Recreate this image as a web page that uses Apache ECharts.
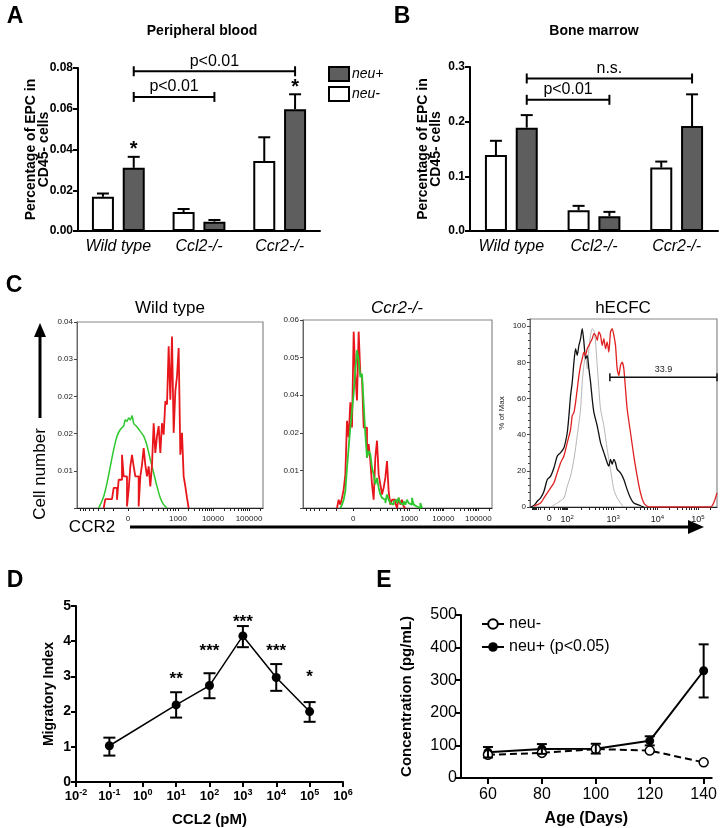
<!DOCTYPE html>
<html>
<head>
<meta charset="utf-8">
<script src="https://cdn.jsdelivr.net/npm/echarts@6.0.0/dist/echarts.min.js"></script>
<style>
  html, body { margin: 0; padding: 0; background: #fff; }
  #main { width: 720px; height: 828px; }
</style>
</head>
<body>
<div id="main"></div>
<script>
var FONT = '"Liberation Sans", Arial, Helvetica, sans-serif';

// ---- A / B : EPC bars
var groups = ['Wild type', 'Ccl2-/-', 'Ccr2-/-'];
var pbNeg = [0.0168, 0.0093, 0.0343];
var pbNegErr = [0.0184, 0.0108, 0.0460];
var pbPos = [0.0310, 0.0046, 0.0598];
var pbPosErr = [0.0364, 0.0054, 0.0671];
var pbStars = ['*', '', '*'];
var pbBrackets = [[0, 2, 0.0784, 'p<0.01'], [0, 1, 0.0658, 'p<0.01']];

var bmNeg = [0.139, 0.038, 0.116];
var bmNegErr = [0.165, 0.046, 0.127];
var bmPos = [0.189, 0.027, 0.192];
var bmPosErr = [0.212, 0.035, 0.250];
var bmBrackets = [[0, 2, 0.279, 'n.s.'], [0, 1, 0.240, 'p<0.01']];

// ---- C : flow histograms (channel units, heights in axis units)
var c1YLabels = ['', '0.01', '0.02', '0.02', '0.03', '0.04'];
var c1TickPos = [153, 303, 408, 516];
var c1TickText = ['0', '1000', '10000', '100000'];
var c1GreenX = [65, 70, 80, 90, 100, 110, 120, 130, 140, 145, 150, 155, 160, 165, 170, 180, 190, 200, 205, 210, 220, 230, 240, 250, 260, 270];
var c1GreenY = [0, 0.09, 0.31, 0.67, 1.12, 1.57, 1.93, 2.11, 2.21, 2.37, 2.33, 2.42, 2.37, 2.48, 2.28, 2.18, 2.06, 1.93, 1.82, 1.68, 1.30, 0.94, 0.58, 0.27, 0.09, 0];
var c1RedX = [80, 85, 90, 95, 100, 105, 110, 115, 120, 125, 130, 135, 140, 145, 150, 155, 160, 165, 170, 175, 180, 185, 190, 195, 200, 205, 210, 215, 220, 225, 230, 235, 240, 245, 250, 255, 260, 265, 270, 275, 280, 285, 290, 295, 300, 305, 310, 315, 320, 325, 330, 335];
var c1RedY = [0, 0.24, 0.24, 0.24, 0.24, 0.24, 0.54, 0.54, 0.22, 0.76, 0.76, 1.43, 0.85, 0.85, 0.04, 0.49, 1.12, 1.43, 1.12, 0.85, 0.85, 0.04, 0.85, 1.16, 1.61, 1.16, 0.85, 1.12, 0.58, 1.16, 2.28, 1.48, 1.93, 2.20, 1.48, 2.28, 1.97, 2.87, 2.78, 4.35, 2.91, 4.61, 2.02, 3.14, 3.54, 4.30, 1.43, 2.02, 0.85, 0.58, 0.27, 0];

var c2YLabels = ['', '0.01', '0.02', '0.04', '0.05', '0.06'];
var c2TickPos = [159, 327, 429, 534];
var c2TickText = ['0', '1000', '10000', '100000'];
var c2RedX = [110, 115, 120, 125, 130, 135, 140, 145, 150, 155, 160, 165, 170, 175, 180, 185, 190, 195, 200, 205, 210, 215, 220, 225, 230, 235, 240, 245, 250, 255, 260, 265, 270, 275, 280, 285, 290, 295, 300, 305, 310, 315];
var c2RedY = [0, 0.22, 0.09, 0.27, 0.49, 0.89, 2.32, 1.88, 2.81, 2.14, 4.69, 3.57, 2.86, 4.69, 3.57, 3.48, 2.14, 2.14, 1.34, 1.70, 1.25, 0.63, 0.22, 1.34, 1.79, 0.89, 0.63, 0.36, 0.54, 0.80, 1.25, 0.45, 0.09, 0.22, 0.22, 0.13, 0, 0.27, 0.09, 0.22, 0.04, 0];
var c2GreenX = [120, 125, 130, 135, 140, 145, 150, 155, 160, 165, 170, 175, 180, 185, 190, 195, 200, 205, 210, 215, 220, 225, 230, 235, 240, 245, 250, 255, 260, 265, 270, 275, 280, 285, 290, 295, 300, 305, 310, 315, 320, 325, 330, 335, 340, 345, 350, 355, 360, 365];
var c2GreenY = [0, 0.09, 0.22, 0.45, 1.07, 1.61, 2.14, 2.59, 3.04, 3.66, 4.20, 3.93, 3.48, 3.57, 2.77, 1.96, 1.34, 1.52, 1.43, 1.07, 0.89, 0.63, 0.80, 0.54, 0.36, 0.27, 0.22, 0.13, 0.36, 0.22, 0.13, 0.09, 0.18, 0.22, 0.13, 0.27, 0.13, 0.09, 0.18, 0.09, 0.22, 0.13, 0.09, 0.27, 0.09, 0.04, 0, 0, 0.13, 0];

var c3TickPos = [66, 120, 258, 391, 513];
var c3TickExp = ['0', '2', '3', '4', '5'];
var c3BlackX = [10, 20, 30, 40, 50, 60, 70, 80, 90, 100, 110, 120, 125, 130, 135, 140, 145, 150, 155, 160, 165, 170, 175, 180, 185, 190, 195, 200, 210, 220, 230, 240, 245, 250, 255, 260, 265, 270, 280, 290, 300, 310, 320, 340, 350];
var c3BlackY = [0, 0.9, 3.2, 5.0, 8.7, 15.2, 17.1, 21.7, 28.2, 30.1, 32.8, 41.2, 50.5, 61.7, 69.1, 80.1, 87.6, 83.9, 89.4, 93.1, 98.7, 91.3, 82.0, 83.9, 76.4, 69.1, 59.7, 52.3, 44.9, 35.6, 30.1, 24.5, 22.6, 26.4, 23.6, 26.4, 24.5, 20.8, 18.9, 15.2, 9.6, 5.0, 2.2, 0.7, 0];
var c3RedX = [20, 30, 40, 50, 60, 70, 80, 90, 100, 110, 120, 130, 135, 140, 145, 150, 155, 160, 165, 170, 175, 180, 185, 190, 195, 200, 205, 210, 215, 220, 225, 230, 235, 240, 245, 250, 255, 260, 265, 270, 275, 280, 285, 290, 295, 300, 310, 320, 330, 340, 350, 360, 370, 550, 560, 570];
var c3RedY = [0.4, 1.3, 2.2, 5.0, 7.8, 10.6, 13.4, 19.0, 24.5, 28.2, 35.6, 43.0, 50.5, 52.3, 57.9, 65.3, 72.7, 78.3, 82.0, 85.7, 83.9, 87.6, 89.4, 91.3, 93.1, 95.9, 95.0, 92.2, 96.8, 95.0, 89.4, 93.1, 87.6, 91.3, 85.7, 96.8, 98.7, 95.0, 89.4, 76.4, 72.7, 78.3, 80.1, 76.4, 65.3, 54.2, 41.2, 28.2, 17.1, 7.8, 2.2, 0.4, 0, 0, 2.2, 7.8];
var c3GrayX = [70, 90, 110, 120, 130, 140, 150, 160, 165, 170, 175, 180, 185, 190, 195, 200, 205, 210, 215, 220, 230, 240, 250, 260, 270, 280, 290];
var c3GrayY = [0, 2.2, 5.0, 11.5, 17.1, 26.4, 39.4, 54.2, 69.1, 78.3, 83.9, 76.4, 87.6, 95.0, 98.7, 97.7, 91.3, 78.3, 65.3, 54.2, 44.9, 31.9, 20.8, 9.6, 5.0, 2.2, 0];
var c3Gate = [[248, 570, 71.8, '33.9']];

// ---- D : migration
var ccl2 = [0.1, 10, 100, 1000, 10000, 100000];
var migIndex = [1.03, 2.19, 2.74, 4.15, 2.97, 2.00];
var migLow = [0.75, 1.83, 2.38, 3.83, 2.59, 1.71];
var migHigh = [1.26, 2.55, 3.09, 4.43, 3.35, 2.27];
var migStars = ['', '**', '***', '***', '***', '*'];
var migStarY = [0, 3.04, 3.84, 4.65, 3.84, 3.08];
var ccl2Ticks = [0.01, 0.1, 1, 10, 100, 1000, 10000, 100000, 1000000];

// ---- E : concentration by age
var ages = [60, 80, 100, 120, 140];
var neuNeg = [71, 77, 89, 84, 48];
var neuPos = [79, 89, 90, 114, 329];
var neuPosLow = [63, 74, 75, 100, 247];
var neuPosHigh = [95, 104, 105, 128, 410];
var ageTicks = [60, 80, 100, 120, 140];

var BAR_W = 22;
var BAR_SHIFT = 15.4;
var DARK = '#5e5e5e';

function zip(xs, ys) {
  return xs.map(function (x, i) { return [x, ys[i]]; });
}

function flowTicks(pos, lo, hi) {
  var t = [];
  var k, m, d;
  for (k = 0; k < pos.length - 1; k++) {
    d = pos[k + 1] - pos[k];
    for (m = 1; m < 10; m++) t.push(pos[k] + d * Math.log10(m));
  }
  d = pos[pos.length - 1] - pos[pos.length - 2];
  for (m = 1; m < 10; m++) {
    var v = pos[pos.length - 1] + d * Math.log10(m);
    if (v <= hi) t.push(v);
  }
  d = pos[1] - pos[0];
  for (m = 2; m < 10; m++) {
    var w = pos[0] - d * Math.log10(m);
    if (w >= lo) t.push(w);
  }
  return t;
}

// error bar going up from bar top
function barErr(xi, yi, vals, errs, side) {
  return {
    type: 'custom', xAxisIndex: xi, yAxisIndex: yi, silent: true, z: 4,
    data: vals.map(function (v, i) { return [i, v, errs[i]]; }),
    renderItem: function (params, api) {
      var a = api.coord([api.value(0), api.value(1)]);
      var b = api.coord([api.value(0), api.value(2)]);
      var x = a[0] + side * BAR_SHIFT;
      var st = { stroke: '#000', lineWidth: 2 };
      return { type: 'group', children: [
        { type: 'line', shape: { x1: x, y1: a[1], x2: x, y2: b[1] }, style: st },
        { type: 'line', shape: { x1: x - 6, y1: b[1], x2: x + 6, y2: b[1] }, style: st }
      ] };
    }
  };
}

function barStars(xi, yi, errs, stars) {
  return {
    type: 'custom', xAxisIndex: xi, yAxisIndex: yi, silent: true, z: 4,
    data: errs.map(function (v, i) { return [i, v]; }),
    renderItem: function (params, api) {
      var s = stars[params.dataIndex];
      if (!s) return null;
      var p = api.coord([api.value(0), api.value(1)]);
      return { type: 'text', style: { text: s, x: p[0] + BAR_SHIFT, y: p[1] - 7, align: 'center', verticalAlign: 'middle',
        fontFamily: FONT, fontSize: 20, fontWeight: 'bold', fill: '#000' } };
    }
  };
}

function brackets(xi, yi, rows) {
  return {
    type: 'custom', xAxisIndex: xi, yAxisIndex: yi, silent: true, z: 4,
    data: rows.map(function (r) { return [r[0], r[1], r[2]]; }),
    renderItem: function (params, api) {
      var a = api.coord([api.value(0), api.value(2)]);
      var b = api.coord([api.value(1), api.value(2)]);
      var x1 = a[0] + BAR_SHIFT, x2 = b[0] + BAR_SHIFT, y = a[1];
      var st = { stroke: '#000', lineWidth: 2 };
      return { type: 'group', children: [
        { type: 'line', shape: { x1: x1, y1: y, x2: x2, y2: y }, style: st },
        { type: 'line', shape: { x1: x1, y1: y - 5, x2: x1, y2: y + 5 }, style: st },
        { type: 'line', shape: { x1: x2, y1: y - 5, x2: x2, y2: y + 5 }, style: st },
        { type: 'text', style: { text: rows[params.dataIndex][3], x: (x1 + x2) / 2, y: y - 2, align: 'center', verticalAlign: 'bottom',
          fontFamily: FONT, fontSize: 16, fill: '#000' } }
      ] };
    }
  };
}

function rangeErr(xi, yi, xs, lo, hi, cap) {
  return {
    type: 'custom', xAxisIndex: xi, yAxisIndex: yi, silent: true, z: 5,
    data: xs.map(function (x, i) { return [x, lo[i], hi[i]]; }),
    renderItem: function (params, api) {
      var a = api.coord([api.value(0), api.value(1)]);
      var b = api.coord([api.value(0), api.value(2)]);
      var st = { stroke: '#000', lineWidth: 2 };
      return { type: 'group', children: [
        { type: 'line', shape: { x1: a[0], y1: a[1], x2: b[0], y2: b[1] }, style: st },
        { type: 'line', shape: { x1: a[0] - cap, y1: a[1], x2: a[0] + cap, y2: a[1] }, style: st },
        { type: 'line', shape: { x1: b[0] - cap, y1: b[1], x2: b[0] + cap, y2: b[1] }, style: st }
      ] };
    }
  };
}

function textMarks(xi, yi, xs, ys, texts, size) {
  return {
    type: 'custom', xAxisIndex: xi, yAxisIndex: yi, silent: true, z: 5,
    data: xs.map(function (x, i) { return [x, ys[i]]; }),
    renderItem: function (params, api) {
      var s = texts[params.dataIndex];
      if (!s) return null;
      var p = api.coord([api.value(0), api.value(1)]);
      return { type: 'text', style: { text: s, x: p[0], y: p[1] + 4, align: 'center', verticalAlign: 'middle',
        fontFamily: FONT, fontSize: size, fontWeight: 'bold', fill: '#000' } };
    }
  };
}

var blackAxis = { show: true, lineStyle: { color: '#000', width: 2 } };
var boldLabel = { color: '#000', fontFamily: FONT, fontWeight: 'bold', fontSize: 12 };

function barYAxis(grid, max, step, digits) {
  return {
    type: 'value', gridIndex: grid, min: 0, max: max, interval: step,
    axisLine: blackAxis, axisTick: { show: true, length: 5, lineStyle: { color: '#000', width: 2 } },
    splitLine: { show: false },
    axisLabel: Object.assign({ margin: 5, formatter: function (v) { return v.toFixed(digits); } }, boldLabel),
    name: 'Percentage of EPC in\nCD45- cells', nameLocation: 'middle', nameGap: 27, nameMoveOverlap: false,
    nameTextStyle: { color: '#000', fontFamily: FONT, fontWeight: 'bold', fontSize: 14, lineHeight: 13 }
  };
}

function barXAxis(grid) {
  return {
    type: 'category', gridIndex: grid, data: groups,
    axisLine: blackAxis, axisTick: { show: false },
    axisLabel: { interval: 0, hideOverlap: false, color: '#000', fontFamily: FONT, fontStyle: 'italic', fontSize: 16, margin: 8 }
  };
}

function flowX(grid, min, max, pos, fmt, rich) {
  return {
    type: 'value', gridIndex: grid, min: min, max: max,
    axisLine: { show: true, lineStyle: { color: '#222', width: 1 } },
    axisTick: { show: true, length: 3, inside: false, customValues: flowTicks(pos, min, max), lineStyle: { color: '#222' } },
    axisLabel: { customValues: pos, color: '#222', fontFamily: FONT, fontSize: 8, margin: 7, formatter: fmt, rich: rich },
    splitLine: { show: false }
  };
}

function flowY(grid, max, step, fmt, minor) {
  return {
    type: 'value', gridIndex: grid, min: 0, max: max, interval: step,
    axisLine: { show: true, lineStyle: { color: '#666', width: 1 } },
    axisTick: { show: true, length: 3, lineStyle: { color: '#444' } },
    minorTick: { show: !!minor, splitNumber: 5, length: 2, lineStyle: { color: '#444' } },
    axisLabel: { color: '#222', fontFamily: FONT, fontSize: 8, margin: 4, formatter: fmt },
    splitLine: { show: false }
  };
}

var supRich = {
  b: { fontFamily: FONT, fontSize: 9, color: '#222' },
  s: { fontFamily: FONT, fontSize: 6, color: '#222', padding: [0, 0, 6, 0] }
};

var chart = echarts.init(document.getElementById('main'), null, { renderer: 'canvas' });

var option = {
  animation: false,
  backgroundColor: '#fff',
  textStyle: { fontFamily: FONT },
  grid: [
    { left: 78, top: 68, width: 242, height: 163, containLabel: false },
    { left: 470, top: 67, width: 248, height: 164, containLabel: false },
    { left: 77, top: 322, width: 186, height: 186, containLabel: false, show: true, borderColor: '#888', borderWidth: 1.2 },
    { left: 303, top: 320, width: 189, height: 188, containLabel: false, show: true, borderColor: '#888', borderWidth: 1.2 },
    { left: 530, top: 319, width: 187, height: 188, containLabel: false, show: true, borderColor: '#888', borderWidth: 1.2 },
    { left: 76, top: 606, width: 267, height: 176, containLabel: false },
    { left: 461, top: 615, width: 252, height: 163, containLabel: false }
  ],
  xAxis: [
    barXAxis(0),
    barXAxis(1),
    flowX(2, 0, 558, c1TickPos, function (v) { return c1TickText[c1TickPos.indexOf(v)]; }),
    flowX(3, 8, 575, c2TickPos, function (v) { return c2TickText[c2TickPos.indexOf(v)]; }),
    flowX(4, 8, 570, c3TickPos, function (v) {
      var e = c3TickExp[c3TickPos.indexOf(v)];
      return e === '0' ? '{b|0}' : '{b|10}{s|' + e + '}';
    }, supRich),
    {
      type: 'log', gridIndex: 5, logBase: 10, min: 0.01, max: 1000000,
      axisLine: blackAxis,
      axisTick: { show: true, length: 5, customValues: ccl2Ticks, lineStyle: { color: '#000', width: 2 } },
      axisLabel: {
        customValues: ccl2Ticks, margin: 6,
        formatter: function (v) { return '{b|10}{s|' + Math.round(Math.log10(v)) + '}'; },
        rich: {
          b: { fontFamily: FONT, fontSize: 13, fontWeight: 'bold', color: '#000' },
          s: { fontFamily: FONT, fontSize: 9, fontWeight: 'bold', color: '#000', padding: [0, 0, 8, 0] }
        }
      },
      splitLine: { show: false }, minorTick: { show: false },
      name: 'CCL2 (pM)', nameLocation: 'middle', nameGap: 30,
      nameTextStyle: { color: '#000', fontFamily: FONT, fontWeight: 'bold', fontSize: 15 }
    },
    {
      type: 'value', gridIndex: 6, min: 50, max: 143,
      axisLine: blackAxis,
      axisTick: { show: true, length: 6, customValues: ageTicks, lineStyle: { color: '#000', width: 2 } },
      axisLabel: { customValues: ageTicks, color: '#000', fontFamily: FONT, fontSize: 16, margin: 9 },
      splitLine: { show: false },
      name: 'Age (Days)', nameLocation: 'middle', nameGap: 33,
      nameTextStyle: { color: '#000', fontFamily: FONT, fontWeight: 'bold', fontSize: 16 }
    }
  ],
  yAxis: [
    barYAxis(0, 0.08, 0.02, 2),
    barYAxis(1, 0.3, 0.1, 1),
    flowY(2, 5, 1, function (v) { return c1YLabels[v]; }),
    flowY(3, 5, 1, function (v) { return c2YLabels[v]; }),
    flowY(4, 104, 20, function (v) { return v; }, true),
    {
      type: 'value', gridIndex: 5, min: 0, max: 5, interval: 1,
      axisLine: blackAxis, axisTick: { show: true, length: 5, lineStyle: { color: '#000', width: 2 } },
      axisLabel: Object.assign({ margin: 5 }, boldLabel, { fontSize: 14 }),
      splitLine: { show: false },
      name: 'Migratory Index', nameLocation: 'middle', nameGap: 20,
      nameTextStyle: { color: '#000', fontFamily: FONT, fontWeight: 'bold', fontSize: 14 }
    },
    {
      type: 'value', gridIndex: 6, min: 0, max: 500, interval: 100,
      axisLine: blackAxis, axisTick: { show: true, length: 6, lineStyle: { color: '#000', width: 2 } },
      axisLabel: { color: '#000', fontFamily: FONT, fontSize: 16, margin: 4 },
      splitLine: { show: false },
      name: 'Concentration (pg/mL)', nameLocation: 'middle', nameGap: 47,
      nameTextStyle: { color: '#000', fontFamily: FONT, fontWeight: 'bold', fontSize: 15 }
    }
  ],
  legend: [
    {
      data: ['neu+', 'neu-'], orient: 'vertical', left: 323, top: 61, icon: 'rect',
      itemWidth: 20, itemHeight: 14, itemGap: 4, selectedMode: false,
      textStyle: { color: '#000', fontFamily: FONT, fontStyle: 'italic', fontSize: 14, padding: [0, 0, 0, -2] }
    },
    {
      data: ['E neu-', 'E neu+ (p<0.05)'], orient: 'vertical', left: 476, top: 611,
      itemWidth: 22, itemHeight: 12, itemGap: 7, selectedMode: false,
      lineStyle: { type: 'solid', width: 2 },
      formatter: function (n) { return n.slice(2); },
      textStyle: { color: '#000', fontFamily: FONT, fontSize: 16 }
    }
  ],
  series: [
    // A
    { name: 'neu-', type: 'bar', xAxisIndex: 0, yAxisIndex: 0, data: pbNeg, barWidth: BAR_W, barGap: '40%',
      itemStyle: { color: '#fff', borderColor: '#000', borderWidth: 2 } },
    { name: 'neu+', type: 'bar', xAxisIndex: 0, yAxisIndex: 0, data: pbPos, barWidth: BAR_W, barGap: '40%',
      itemStyle: { color: DARK, borderColor: '#000', borderWidth: 2 } },
    barErr(0, 0, pbNeg, pbNegErr, -1),
    barErr(0, 0, pbPos, pbPosErr, 1),
    barStars(0, 0, pbPosErr, pbStars),
    brackets(0, 0, pbBrackets),
    // B
    { name: 'neu-', type: 'bar', xAxisIndex: 1, yAxisIndex: 1, data: bmNeg, barWidth: BAR_W, barGap: '40%',
      itemStyle: { color: '#fff', borderColor: '#000', borderWidth: 2 } },
    { name: 'neu+', type: 'bar', xAxisIndex: 1, yAxisIndex: 1, data: bmPos, barWidth: BAR_W, barGap: '40%',
      itemStyle: { color: DARK, borderColor: '#000', borderWidth: 2 } },
    barErr(1, 1, bmNeg, bmNegErr, -1),
    barErr(1, 1, bmPos, bmPosErr, 1),
    brackets(1, 1, bmBrackets),
    // C1
    { type: 'line', xAxisIndex: 2, yAxisIndex: 2, data: zip(c1GreenX, c1GreenY), symbol: 'none', smooth: 0.3,
      lineStyle: { color: '#2dc82d', width: 1.5 }, z: 2 },
    { type: 'line', xAxisIndex: 2, yAxisIndex: 2, data: zip(c1RedX, c1RedY), symbol: 'none', step: 'end',
      lineStyle: { color: '#e8161b', width: 1.8 }, z: 3 },
    // C2
    { type: 'line', xAxisIndex: 3, yAxisIndex: 3, data: zip(c2RedX, c2RedY), symbol: 'none', step: 'end',
      lineStyle: { color: '#e8161b', width: 1.8 }, z: 2 },
    { type: 'line', xAxisIndex: 3, yAxisIndex: 3, data: zip(c2GreenX, c2GreenY), symbol: 'none', step: 'end',
      lineStyle: { color: '#2dc82d', width: 1.8 }, z: 3 },
    // C3
    { type: 'line', xAxisIndex: 4, yAxisIndex: 4, data: zip(c3GrayX, c3GrayY), symbol: 'none', smooth: 0.2,
      lineStyle: { color: '#b4b4b4', width: 1 }, z: 2 },
    { type: 'line', xAxisIndex: 4, yAxisIndex: 4, data: zip(c3BlackX, c3BlackY), symbol: 'none', smooth: 0.2,
      lineStyle: { color: '#111', width: 1.3 }, z: 3 },
    { type: 'line', xAxisIndex: 4, yAxisIndex: 4, data: zip(c3RedX, c3RedY), symbol: 'none', smooth: 0.2,
      lineStyle: { color: '#e02020', width: 1.3 }, z: 4 },
    {
      type: 'custom', xAxisIndex: 4, yAxisIndex: 4, silent: true, z: 5,
      data: c3Gate.map(function (g) { return [g[0], g[1], g[2]]; }),
      renderItem: function (params, api) {
        var a = api.coord([api.value(0), api.value(2)]);
        var b = api.coord([api.value(1), api.value(2)]);
        var st = { stroke: '#111', lineWidth: 1.5 };
        return { type: 'group', children: [
          { type: 'line', shape: { x1: a[0], y1: a[1], x2: b[0], y2: b[1] }, style: st },
          { type: 'line', shape: { x1: a[0], y1: a[1] - 4, x2: a[0], y2: a[1] + 4 }, style: st },
          { type: 'line', shape: { x1: b[0], y1: b[1] - 4, x2: b[0], y2: b[1] + 4 }, style: st },
          { type: 'text', style: { text: c3Gate[params.dataIndex][3], x: (a[0] + b[0]) / 2, y: a[1] - 3, align: 'center',
            verticalAlign: 'bottom', fontFamily: FONT, fontSize: 9, fill: '#222' } }
        ] };
      }
    },
    // D
    { type: 'line', xAxisIndex: 5, yAxisIndex: 5, data: zip(ccl2, migIndex), symbol: 'circle', symbolSize: 9,
      itemStyle: { color: '#000' }, lineStyle: { color: '#000', width: 1.5 }, z: 3 },
    rangeErr(5, 5, ccl2, migLow, migHigh, 6),
    textMarks(5, 5, ccl2, migStarY, migStars, 17),
    // E
    { name: 'E neu-', type: 'line', xAxisIndex: 6, yAxisIndex: 6, data: zip(ages, neuNeg), symbol: 'circle', symbolSize: 9,
      itemStyle: { color: '#fff', borderColor: '#000', borderWidth: 1.5 },
      lineStyle: { color: '#000', width: 2, type: [7, 4] }, z: 4 },
    { name: 'E neu+ (p<0.05)', type: 'line', xAxisIndex: 6, yAxisIndex: 6, data: zip(ages, neuPos), symbol: 'circle', symbolSize: 9,
      itemStyle: { color: '#000' }, lineStyle: { color: '#000', width: 2 }, z: 3 },
    rangeErr(6, 6, ages, neuPosLow, neuPosHigh, 5)
  ],
  graphic: [
    { type: 'text', x: 15, y: 17, style: { text: 'A', fontFamily: FONT, fontSize: 23, fontWeight: 'bold', fill: '#000', align: 'center', verticalAlign: 'middle' } },
    { type: 'text', x: 402, y: 17, style: { text: 'B', fontFamily: FONT, fontSize: 23, fontWeight: 'bold', fill: '#000', align: 'center', verticalAlign: 'middle' } },
    { type: 'text', x: 14, y: 286, style: { text: 'C', fontFamily: FONT, fontSize: 23, fontWeight: 'bold', fill: '#000', align: 'center', verticalAlign: 'middle' } },
    { type: 'text', x: 15, y: 581, style: { text: 'D', fontFamily: FONT, fontSize: 23, fontWeight: 'bold', fill: '#000', align: 'center', verticalAlign: 'middle' } },
    { type: 'text', x: 384, y: 581, style: { text: 'E', fontFamily: FONT, fontSize: 23, fontWeight: 'bold', fill: '#000', align: 'center', verticalAlign: 'middle' } },
    { type: 'text', x: 202, y: 31, style: { text: 'Peripheral blood', fontFamily: FONT, fontSize: 14, fontWeight: 'bold', fill: '#000', align: 'center', verticalAlign: 'middle' } },
    { type: 'text', x: 594, y: 31, style: { text: 'Bone marrow', fontFamily: FONT, fontSize: 14, fontWeight: 'bold', fill: '#000', align: 'center', verticalAlign: 'middle' } },
    { type: 'text', x: 170, y: 308, style: { text: 'Wild type', fontFamily: FONT, fontSize: 17, fill: '#000', align: 'center', verticalAlign: 'middle' } },
    { type: 'text', x: 397, y: 308, style: { text: 'Ccr2-/-', fontFamily: FONT, fontSize: 17, fontStyle: 'italic', fill: '#000', align: 'center', verticalAlign: 'middle' } },
    { type: 'text', x: 623, y: 308, style: { text: 'hECFC', fontFamily: FONT, fontSize: 17, fill: '#000', align: 'center', verticalAlign: 'middle' } },
    { type: 'text', x: 502, y: 413, rotation: Math.PI / 2, style: { text: '% of Max', fontFamily: FONT, fontSize: 8, fill: '#222', align: 'center', verticalAlign: 'middle' } },
    { type: 'text', x: 40, y: 474, rotation: Math.PI / 2, style: { text: 'Cell number', fontFamily: FONT, fontSize: 17, fill: '#000', align: 'center', verticalAlign: 'middle' } },
    { type: 'line', shape: { x1: 40, y1: 418, x2: 40, y2: 334 }, style: { stroke: '#000', lineWidth: 3 } },
    { type: 'polygon', shape: { points: [[40, 323], [34, 337], [46, 337]] }, style: { fill: '#000' } },
    { type: 'text', x: 92, y: 527, style: { text: 'CCR2', fontFamily: FONT, fontSize: 17, fill: '#000', align: 'center', verticalAlign: 'middle' } },
    { type: 'line', shape: { x1: 130, y1: 527, x2: 690, y2: 527 }, style: { stroke: '#000', lineWidth: 3 } },
    { type: 'polygon', shape: { points: [[704, 527], [688, 520], [688, 534]] }, style: { fill: '#000' } }
  ]
};

chart.setOption(option);
</script>
</body>
</html>
